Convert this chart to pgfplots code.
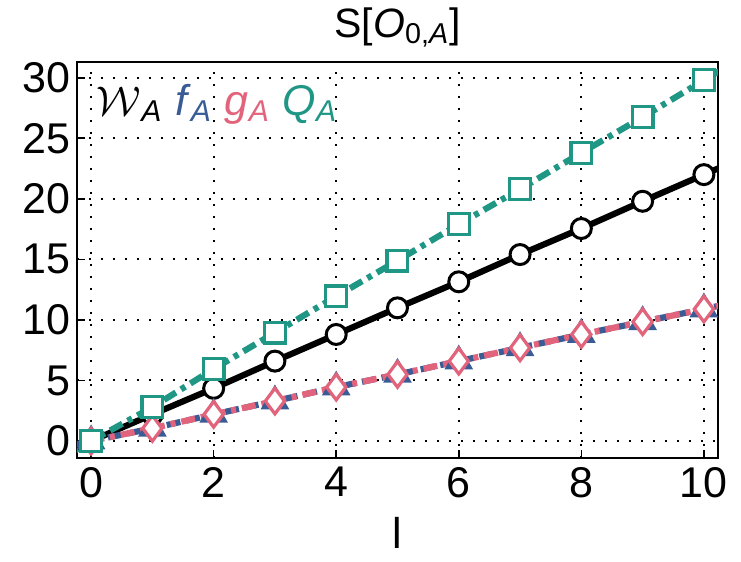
\documentclass[border=0pt]{standalone}
\usepackage{fontspec}
\setmainfont{Liberation Sans}
\usepackage{pgfplots}
\pgfplotsset{compat=1.18}

\definecolor{cteal}{RGB}{32,150,132}
\definecolor{cblue}{RGB}{58,92,150}
\definecolor{cpink}{RGB}{226,100,124}

\begin{document}
\begin{tikzpicture}
\useasboundingbox (-38.5pt,-52pt) rectangle (332pt,229pt);
\begin{axis}[
  scale only axis,
  width=320.5pt, height=198pt,
  at={(0,0)}, anchor=south west,
  xmin=-0.23, xmax=10.23,
  ymin=-1.4, ymax=31.3,
  xtick={0,2,4,6,8,10},
  ytick={0,5,10,15,20,25,30},
  tick pos=left,
  tick align=inside,
  major tick length=4pt,
  every tick/.style={black, line width=0.8pt},
  axis line style={line width=1pt},
  grid=major,
  grid style={black, line width=1pt, dash pattern=on 1pt off 5pt},
  tick label style={font=\fontsize{21.5}{24}\selectfont},
  xticklabel style={yshift=-1pt},
  /pgf/number format/assume math mode=true,
  xlabel={l},
  xlabel style={font=\fontsize{21.5}{24}\selectfont, yshift=-3pt},
  title={S[\textit{O}\textsubscript{0,\textit{A}}]},
  title style={font=\fontsize{20.5}{23}\selectfont, yshift=-2pt},
  clip=true,
]
% W_A : solid black with open circles
\addplot[black, line width=3.1pt, mark=*, mark size=5pt,
  mark options={solid, fill=white, draw=black, line width=1.5pt},
  mark indices={1,...,11}]
  coordinates {(-1,-2.2) (0,0) (1,2.2) (2,4.35) (3,6.6) (4,8.8) (5,11.0)
    (6,13.15) (7,15.4) (8,17.55) (9,19.8) (10,22.0) (11,24.2)};
% f_A : blue dashed with triangles
\addplot[cblue, line width=3.1pt, dash pattern=on 7pt off 3pt, mark=triangle*,
  mark size=5.2pt, mark options={solid, fill=cblue, draw=cblue},
  mark indices={1,...,11}]
  coordinates {(-1,-1.1) (0,0) (1,1.05) (2,2.2) (3,3.3) (4,4.45) (5,5.5)
    (6,6.6) (7,7.7) (8,8.8) (9,9.85) (10,10.9) (11,12.0)};
% g_A : pink dash-dot with open diamonds
\addplot[cpink, line width=3.1pt, dash pattern=on 7pt off 3pt on 2.5pt off 3pt,
  mark=diamond*, mark size=6.4pt,
  mark options={solid, fill=white, draw=cpink, line width=1.6pt},
  mark indices={1,...,11}]
  coordinates {(-1,-1.1) (0,0) (1,1.05) (2,2.2) (3,3.3) (4,4.45) (5,5.5)
    (6,6.6) (7,7.7) (8,8.8) (9,9.85) (10,10.9) (11,12.0)};
% Q_A : teal dash-dot with open squares
\addplot[cteal, line width=3.1pt, dash pattern=on 7pt off 3pt on 2.5pt off 3pt,
  mark=square*, mark size=5.2pt,
  mark options={solid, fill=white, draw=cteal, line width=1.6pt},
  mark indices={1,...,11}]
  coordinates {(-1,-3.0) (0,0) (1,2.8) (2,5.95) (3,8.95) (4,11.95) (5,14.9)
    (6,17.9) (7,20.8) (8,23.8) (9,26.75) (10,29.8) (11,32.8)};
\node[anchor=west, font=\fontsize{21.5}{24}\selectfont] at (axis description cs:0.02,0.893)
  {$\mathcal{W}$\textsubscript{\textit{A}}\hspace{0.3em}%
   \textcolor{cblue}{\textit{f}\textsubscript{\textit{A}}}\hspace{0.3em}%
   \textcolor{cpink}{\textit{g}\textsubscript{\textit{A}}}\hspace{0.3em}%
   \textcolor{cteal}{\textit{Q}\textsubscript{\textit{A}}}};
\end{axis}
\end{tikzpicture}
\end{document}
